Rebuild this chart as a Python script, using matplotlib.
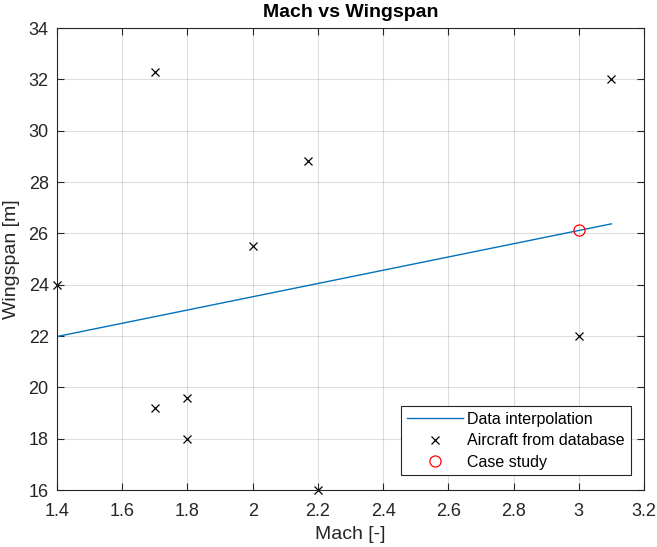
import numpy as np
import matplotlib.pyplot as plt

plt.rcParams['font.family'] = ['Liberation Sans', 'DejaVu Sans']

# interpolation line end points
interp_mach = [1.4, 3.1]
interp_span = [21.98, 26.37]

# aircraft from database
db_mach = [1.7, 2.17, 2.0, 1.4, 1.7, 1.8, 1.8, 2.2, 3.0, 3.1]
db_span = [32.3, 28.8, 25.5, 24.0, 19.2, 19.6, 18.0, 16.0, 22.0, 32.0]

# case study
case_mach = [3.0]
case_span = [26.12]

fig = plt.figure(figsize=(6.57, 5.47), dpi=100)
ax = fig.add_axes([0.0868, 0.1042, 0.8935, 0.8446])

ax.plot(interp_mach, interp_span, '-', color='#0072BD', lw=1.0, label='Data interpolation')
ax.plot(db_mach, db_span, 'x', color='black', ms=6, mew=0.9, label='Aircraft from database', clip_on=False)
ax.plot(case_mach, case_span, 'o', mfc='none', mec='red', ms=8, mew=0.9, label='Case study')

ax.set_xlim(1.4, 3.2)
ax.set_ylim(16, 34)
ax.set_xticks(np.arange(1.4, 3.21, 0.2))
ax.set_xticklabels(['1.4', '1.6', '1.8', '2', '2.2', '2.4', '2.6', '2.8', '3', '3.2'])
ax.set_yticks(np.arange(16, 35, 2))

ax.grid(True, color='#262626', alpha=0.15, lw=0.8)
ax.tick_params(direction='in', top=True, right=True, labelsize=13, colors='#262626', length=5)
ax.tick_params(axis='x', pad=9)
ax.tick_params(axis='y', pad=6)
for s in ax.spines.values():
    s.set_color('#262626')
    s.set_linewidth(0.8)

ax.set_title('Mach vs Wingspan', fontsize=14, fontweight='bold', pad=8)
ax.set_xlabel('Mach [-]', fontsize=14, color='#262626')
ax.set_ylabel('Wingspan [m]', fontsize=14, color='#262626')
ax.xaxis.set_label_coords(0.5, -0.078)
ax.yaxis.set_label_coords(-0.063, 0.5)

leg = ax.legend(loc='lower right', bbox_to_anchor=(0.977, 0.032), borderaxespad=0,
                fontsize=11.5, fancybox=False, framealpha=1, edgecolor='#262626',
                handlelength=3.5, handletextpad=0.3, borderpad=0.35, labelspacing=0.4)
leg.get_frame().set_linewidth(0.8)

fig.savefig('out.png', dpi=100)
